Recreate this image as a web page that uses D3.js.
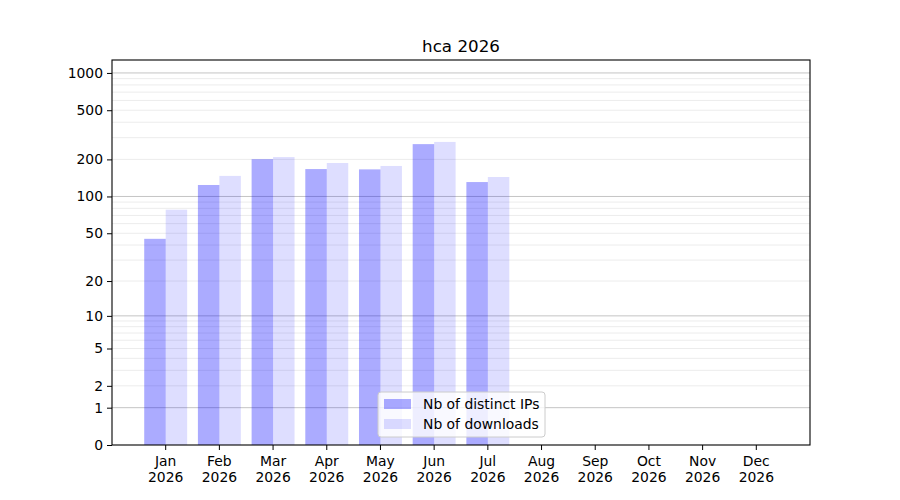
<!DOCTYPE html>
<html>
<head>
<meta charset="utf-8">
<script src="https://cdn.jsdelivr.net/npm/d3@7"></script>
<style>
  body { margin: 0; background: #fff; }
  svg { font-family: "DejaVu Sans", sans-serif; }
</style>
</head>
<body>
<div id="chart"></div>
<script>
// monthly stats
const months = ['Jan', 'Feb', 'Mar', 'Apr', 'May', 'Jun', 'Jul', 'Aug', 'Sep', 'Oct', 'Nov', 'Dec'];
const year = '2026';
const distinctIPs = [45, 124, 201, 167, 166, 266, 131, null, null, null, null, null];
const downloads = [78, 147, 209, 187, 177, 277, 144, null, null, null, null, null];
const yTicks = [0, 1, 2, 5, 10, 20, 50, 100, 200, 500, 1000];
const majorGrid = [1, 10, 100, 1000];
const minorGrid = [2, 3, 4, 5, 6, 7, 8, 9, 20, 30, 40, 50, 60, 70, 80, 90,
  200, 300, 400, 500, 600, 700, 800, 900];

const W = 900, H = 500;
const margin = { top: 60, right: 90, bottom: 55, left: 112 };
const width = W - margin.left - margin.right;
const height = H - margin.top - margin.bottom;

const svg = d3.select('#chart').append('svg')
  .attr('width', W)
  .attr('height', H);

const g = svg.append('g')
  .attr('transform', `translate(${margin.left},${margin.top})`);

// Scales
const x = d3.scaleBand()
  .domain(months)
  .range([0, width])
  .paddingInner(0)
  .paddingOuter(0.5);

// log10(1 + v) -> same as symlog with constant 1
const y = d3.scaleSymlog()
  .constant(1)
  .domain([0, 1272])
  .range([height, 0]);

const barW = x.bandwidth() * 0.4;

// Grid
g.append('g')
  .selectAll('line')
  .data(minorGrid)
  .join('line')
  .attr('x1', 0)
  .attr('x2', width)
  .attr('y1', d => y(d))
  .attr('y2', d => y(d))
  .attr('stroke', '#ececec')
  .attr('stroke-width', 1);

g.append('g')
  .selectAll('line')
  .data(majorGrid)
  .join('line')
  .attr('x1', 0)
  .attr('x2', width)
  .attr('y1', d => y(d))
  .attr('y2', d => y(d))
  .attr('stroke', '#c4c4c4')
  .attr('stroke-width', 1);

// Bars
const ipData = months.map((m, i) => ({ m, v: distinctIPs[i] })).filter(d => d.v != null);
const dlData = months.map((m, i) => ({ m, v: downloads[i] })).filter(d => d.v != null);

g.append('g')
  .selectAll('rect')
  .data(ipData)
  .join('rect')
  .attr('x', d => x(d.m) + x.bandwidth() / 2 - barW)
  .attr('y', d => y(d.v))
  .attr('width', barW)
  .attr('height', d => height - y(d.v))
  .attr('fill', 'blue')
  .attr('fill-opacity', 0.33);

g.append('g')
  .selectAll('rect')
  .data(dlData)
  .join('rect')
  .attr('x', d => x(d.m) + x.bandwidth() / 2)
  .attr('y', d => y(d.v))
  .attr('width', barW)
  .attr('height', d => height - y(d.v))
  .attr('fill', 'blue')
  .attr('fill-opacity', 0.13);

// Frame
g.append('rect')
  .attr('width', width)
  .attr('height', height)
  .attr('fill', 'none')
  .attr('stroke', '#000')
  .attr('stroke-width', 1.1);

// Axes
const yAxis = g.append('g')
  .call(d3.axisLeft(y).tickValues(yTicks).tickFormat(d3.format('d')).tickSize(5).tickPadding(4));
yAxis.select('.domain').remove();
yAxis.selectAll('text').attr('font-size', 13.9).attr('fill', '#000').attr('font-family', '"DejaVu Sans", sans-serif');
yAxis.selectAll('line').attr('stroke', '#000');

const xAxis = g.append('g')
  .attr('transform', `translate(0,${height})`)
  .call(d3.axisBottom(x).tickSize(5).tickFormat(''));
xAxis.select('.domain').remove();
xAxis.selectAll('line').attr('stroke', '#000');
xAxis.selectAll('.tick').each(function(d) {
  const t = d3.select(this).append('text')
    .attr('fill', '#000')
    .attr('font-size', 13.9)
    .attr('font-family', '"DejaVu Sans", sans-serif')
    .attr('text-anchor', 'middle');
  t.append('tspan').attr('x', 0).attr('y', 21).text(d);
  t.append('tspan').attr('x', 0).attr('y', 37).text(year);
});

// Title
svg.append('text')
  .attr('x', margin.left + width / 2)
  .attr('y', 52)
  .attr('text-anchor', 'middle')
  .attr('font-size', 16.7)
  .text('hca ' + year);

// Legend
const legend = g.append('g')
  .attr('transform', `translate(${378 - margin.left},${392 - margin.top})`);
legend.append('rect')
  .attr('width', 167)
  .attr('height', 45)
  .attr('rx', 3)
  .attr('fill', '#fff')
  .attr('fill-opacity', 0.8)
  .attr('stroke', '#cccccc');
const legendItems = [
  { label: 'Nb of distinct IPs', op: 0.33 },
  { label: 'Nb of downloads', op: 0.13 }
];
legendItems.forEach((it, i) => {
  legend.append('rect')
    .attr('x', 6)
    .attr('y', 7 + i * 20)
    .attr('width', 27)
    .attr('height', 10)
    .attr('fill', 'blue')
    .attr('fill-opacity', it.op);
  legend.append('text')
    .attr('x', 45)
    .attr('y', 17 + i * 20)
    .attr('font-size', 13.9)
    .text(it.label);
});
</script>
</body>
</html>
